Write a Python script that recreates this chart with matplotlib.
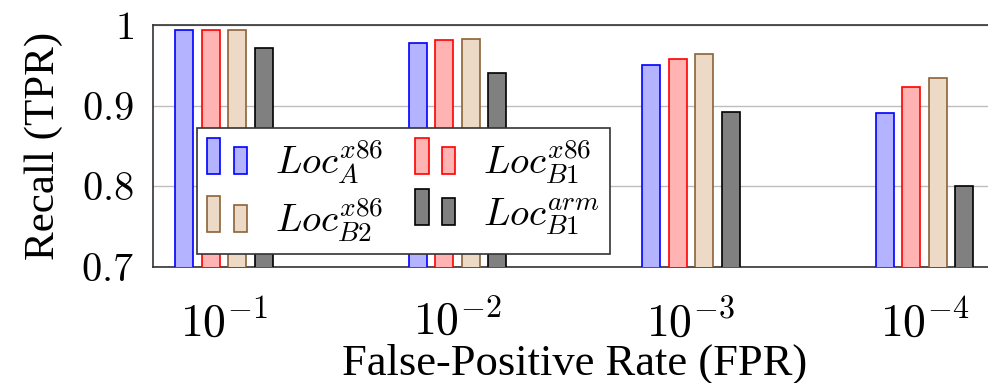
import numpy as np
import matplotlib

matplotlib.use("Agg")
import matplotlib.pyplot as plt
from matplotlib.patches import Rectangle
from matplotlib.legend_handler import HandlerBase

# ---- data ----
FPR_LABELS = [r"$10^{-1}$", r"$10^{-2}$", r"$10^{-3}$", r"$10^{-4}$"]
SERIES = [r"$Loc_{A}^{x86}$", r"$Loc_{B1}^{x86}$",
          r"$Loc_{B2}^{x86}$", r"$Loc_{B1}^{arm}$"]
LOC_A_X86 = [0.994, 0.978, 0.951, 0.891]
LOC_B1_X86 = [0.994, 0.981, 0.958, 0.923]
LOC_B2_X86 = [0.994, 0.983, 0.964, 0.934]
LOC_B1_ARM = [0.971, 0.941, 0.892, 0.801]
YTICKS = [0.7, 0.8, 0.9, 1.0]

# pgfplots-ish colours: fill = color!30, edge = color
FILLS = ["#b3b3ff", "#ffb3b3", "#ecd9c6", "#808080"]
EDGES = ["#0000ff", "#ff0000", "#8c6239", "#000000"]

plt.rcParams["mathtext.fontset"] = "cm"
plt.rcParams["font.family"] = "Liberation Serif"


class TwoBarHandler(HandlerBase):
    """Legend marker like pgfplots ybar legend: two small bars
    standing on the text baseline."""

    def create_artists(self, legend, orig_handle, xdescent, ydescent,
                       width, height, fontsize, trans):
        fc = orig_handle.get_facecolor()
        ec = orig_handle.get_edgecolor()
        w = width * 0.34
        x0 = -xdescent
        h = 0.925 * fontsize
        r1 = Rectangle((x0, 0), w, h, facecolor=fc, edgecolor=ec,
                       linewidth=1.2, transform=trans)
        r2 = Rectangle((x0 + width - w, 0), w, h * 0.75, facecolor=fc,
                       edgecolor=ec, linewidth=1.2, transform=trans)
        return [r1, r2]


def main():
    values = [LOC_A_X86, LOC_B1_X86, LOC_B2_X86, LOC_B1_ARM]
    x = np.arange(len(FPR_LABELS))
    step = 0.1135
    width = 0.077

    fig = plt.figure(figsize=(9.88, 3.83), dpi=100)
    ax = fig.add_axes([0.1549, 0.3029, 0.8527, 0.6319])

    handles = []
    for i, vals in enumerate(values):
        off = (i - 1.5) * step
        bc = ax.bar(x + off, vals, width, color=FILLS[i], edgecolor=EDGES[i],
                    linewidth=1.2, zorder=3)
        handles.append(bc.patches[0])

    ax.set_xlim(-0.304, 3.304)
    ax.set_ylim(0.7, 1.0)
    ax.set_xticks(x)
    ax.set_xticklabels(FPR_LABELS, fontsize=33)
    ax.set_yticks(YTICKS)
    ax.set_yticklabels([f"${v:g}$" for v in YTICKS], fontsize=29)
    ax.tick_params(axis="both", length=0)
    ax.tick_params(axis="x", pad=24)
    ax.tick_params(axis="y", pad=14)
    ax.grid(True, axis="y", color="#bdbdbd", linewidth=1.0, zorder=0)
    for s in ax.spines.values():
        s.set_color("0.2")
        s.set_linewidth(1.2)

    ax.set_ylabel("Recall (TPR)", fontsize=31, labelpad=13)
    ax.set_xlabel("False-Positive Rate (FPR)", fontsize=32, labelpad=-2)

    # legend is filled row by row in the reference (2 columns)
    order = [0, 2, 1, 3]
    leg = ax.legend([handles[k] for k in order], [SERIES[k] for k in order],
                    ncol=2, fontsize=28,
                    handler_map={Rectangle: TwoBarHandler()},
                    loc="lower left", bbox_to_anchor=(0.052, 0.054),
                    borderaxespad=0,
                    frameon=True, fancybox=False, framealpha=1,
                    edgecolor="0.2", handlelength=1.05, handleheight=0.7,
                    handletextpad=0.72, columnspacing=0.8, labelspacing=0.25,
                    borderpad=0.25)
    leg.get_frame().set_linewidth(1.2)
    leg.set_zorder(5)

    fig.savefig("out.png", dpi=100)


if __name__ == "__main__":
    main()
